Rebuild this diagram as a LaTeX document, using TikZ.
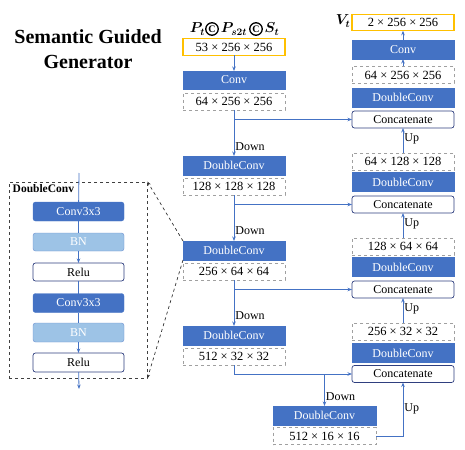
\documentclass[tikz,border=0pt]{standalone}
\usepackage{amsmath}
\usepackage{fontspec}
\setmainfont{Liberation Serif}
\usetikzlibrary{arrows.meta,calc}
\definecolor{myblue}{HTML}{4472C4}
\definecolor{lblue}{HTML}{9DC3E6}
\definecolor{bnedge}{HTML}{6A8FD0}
\definecolor{navy}{HTML}{2F3F7F}
\definecolor{myyellow}{HTML}{FFC000}
\definecolor{dgray}{HTML}{A0A0A0}
\newcommand{\boxfont}{\fontsize{12}{12}\selectfont}
\newcommand{\dimfont}{\fontsize{12.5}{13}\selectfont}
\begin{document}
\begin{tikzpicture}[x=1pt,y=-1pt,
  blk/.style={inner sep=0pt,outer sep=0pt,minimum width=102pt,minimum height=19pt,fill=myblue,draw=myblue,text=white,font=\boxfont},
  dimbox/.style={inner sep=0pt,outer sep=0pt,minimum width=102pt,minimum height=17pt,draw=dgray,dashed,line width=0.7pt,fill=white,font=\dimfont},
  ybox/.style={inner sep=0pt,outer sep=0pt,minimum width=102pt,minimum height=16.5pt,draw=myyellow,line width=1.2pt,fill=white,font=\dimfont},
  catbox/.style={inner sep=0pt,outer sep=0pt,minimum width=102pt,minimum height=17pt,rounded corners=2.5pt,draw=navy,line width=0.7pt,fill=white,font=\boxfont},
  ibox/.style={inner sep=0pt,outer sep=0pt,minimum width=91pt,minimum height=19pt,rounded corners=2.5pt,font=\boxfont},
  conv/.style={ibox,fill=myblue,draw=myblue,text=white},
  bn/.style={ibox,fill=lblue,draw=bnedge,text=white},
  relu/.style={ibox,fill=white,draw=navy,line width=0.7pt},
  ln/.style={draw=myblue,line width=0.8pt},
  arr/.style={ln,-{Stealth[length=4.5pt,width=3.5pt]}},
  lab/.style={font=\boxfont,inner sep=1pt,anchor=west},
  mathlab/.style={font=\fontsize{14.5}{14.5}\selectfont,inner sep=0pt},
  ccirc/.style={circle,draw,line width=1.3pt,minimum size=12.5pt,inner sep=0pt,font=\fontsize{10}{10}\selectfont\bfseries}
]
\useasboundingbox (0,0) rectangle (465,449);

% title
\node[font=\fontsize{20}{25}\selectfont\bfseries,align=center] (title) at (88,49.5) {Semantic Guided\\Generator};

% input label
\node[mathlab] (lp) at (197.5,29) {$\boldsymbol{P_t}$};
\node[ccirc] (cc1) at (212,29) {C};
\node[mathlab] (lps) at (234,29) {$\boldsymbol{P_{s2t}}$};
\node[ccirc] (cc2) at (256,29) {C};
\node[mathlab] (ls) at (272,29) {$\boldsymbol{S_t}$};

% encoder column
\node[ybox] (in) at (234,47) {53 × 256 × 256};
\node[blk,minimum height=18pt] (conv1) at (234,80) {Conv};
\node[dimbox] (d1) at (234,101.5) {64 × 256 × 256};
\node[blk] (dc1) at (234,165.5) {DoubleConv};
\node[dimbox] (d2) at (234,186.5) {128 × 128 × 128};
\node[blk] (dc2) at (234,250.5) {DoubleConv};
\node[dimbox] (d3) at (234,271.5) {256 × 64 × 64};
\node[blk] (dc3) at (234,335.5) {DoubleConv};
\node[dimbox] (d4) at (234,356.5) {512 × 32 × 32};
\node[blk,minimum width=103pt] (dc4) at (324.5,415.5) {DoubleConv};
\node[dimbox,minimum width=103pt] (d5) at (324.5,436) {512 × 16 × 16};

% decoder column
\node[mathlab] (outlab) at (343,21) {$\boldsymbol{V_t}$};
\node[ybox] (out) at (403,22.5) {2 × 256 × 256};
\node[blk] (conv2) at (403,49.5) {Conv};
\node[dimbox] (u1) at (403,75) {64 × 256 × 256};
\node[blk] (dcu1) at (403,97.5) {DoubleConv};
\node[catbox] (cat1) at (403,119.5) {Concatenate};
\node[dimbox] (u2) at (403,161.5) {64 × 128 × 128};
\node[blk] (dcu2) at (403,182) {DoubleConv};
\node[catbox] (cat2) at (403,204.5) {Concatenate};
\node[dimbox] (u3) at (403,246.5) {128 × 64 × 64};
\node[blk] (dcu3) at (403,267) {DoubleConv};
\node[catbox] (cat3) at (403,289.5) {Concatenate};
\node[dimbox] (u4) at (403,331.5) {256 × 32 × 32};
\node[blk] (dcu4) at (403,353) {DoubleConv};
\node[catbox] (cat4) at (403,374) {Concatenate};

% encoder arrows
\draw[arr] (in) -- (conv1);
\draw[arr] (d1) -- node[lab,pos=0.8] (dn1) {Down} (dc1);
\draw[arr] (d2) -- node[lab,pos=0.78] (dn2) {Down} (dc2);
\draw[arr] (d3) -- node[lab,pos=0.78] (dn3) {Down} (dc3);

% skip connections
\draw[arr] (d1.south |- cat1.west) -- (cat1.west);
\draw[arr] (d2.south |- cat2.west) -- (cat2.west);
\draw[arr] (d3.south |- cat3.west) -- (cat3.west);
\draw[arr] (d4.south) |- (cat4.west);
\draw[arr] (dc4.north |- cat4.west) -- node[lab,pos=0.72] (dn4) {Down} (dc4.north);
\draw[arr] (d5.east) -| node[lab,pos=0.75] (up4) {Up} (cat4.south);

% decoder arrows
\draw[arr] (conv2) -- (out);
\draw[arr] (u1) -- (conv2);
\draw[arr] (u2) -- node[lab,pos=0.55] (up1) {Up} (cat1);
\draw[arr] (u3) -- node[lab,pos=0.55] (up2) {Up} (cat2);
\draw[arr] (u4) -- node[lab,pos=0.55] (up3) {Up} (cat3);

% inset
\node[draw=black!75,dashed,line width=0.8pt,inner sep=0pt,minimum width=138pt,minimum height=196pt] (inset) at (78,280) {};
\node[font=\fontsize{11.5}{12}\selectfont\bfseries,anchor=west,inner sep=0pt] (dclab) at (12.5,189) {DoubleConv};
\coordinate (itop) at (79,173);
\coordinate (ibot) at (79,389);
\node[conv] (c1) at (78.5,211.5) {Conv3x3};
\node[bn,minimum height=18pt] (b1) at (78.5,242) {BN};
\node[relu,minimum height=18pt] (r1) at (78.5,272) {Relu};
\node[conv] (c2) at (78.5,303) {Conv3x3};
\node[bn] (b2) at (78.5,332.5) {BN};
\node[relu] (r2) at (78.5,362.5) {Relu};
\draw[ln] (itop) -- (c1);
\draw[ln] (c1) -- (b1);
\draw[arr] (b1) -- (r1);
\draw[ln] (r1) -- (c2);
\draw[ln] (c2) -- (b2);
\draw[arr] (b2) -- (r2);
\draw[arr] (r2) -- (ibot);

% zoom lines
\draw[dashed,black!80,line width=0.7pt,-{Stealth[length=4pt,width=3pt]}] (dc2.north west) -- (inset.north east);
\draw[dashed,black!80,line width=0.7pt,-{Stealth[length=4pt,width=3pt]}] (dc2.south west) -- (inset.south east);
\end{tikzpicture}
\end{document}
